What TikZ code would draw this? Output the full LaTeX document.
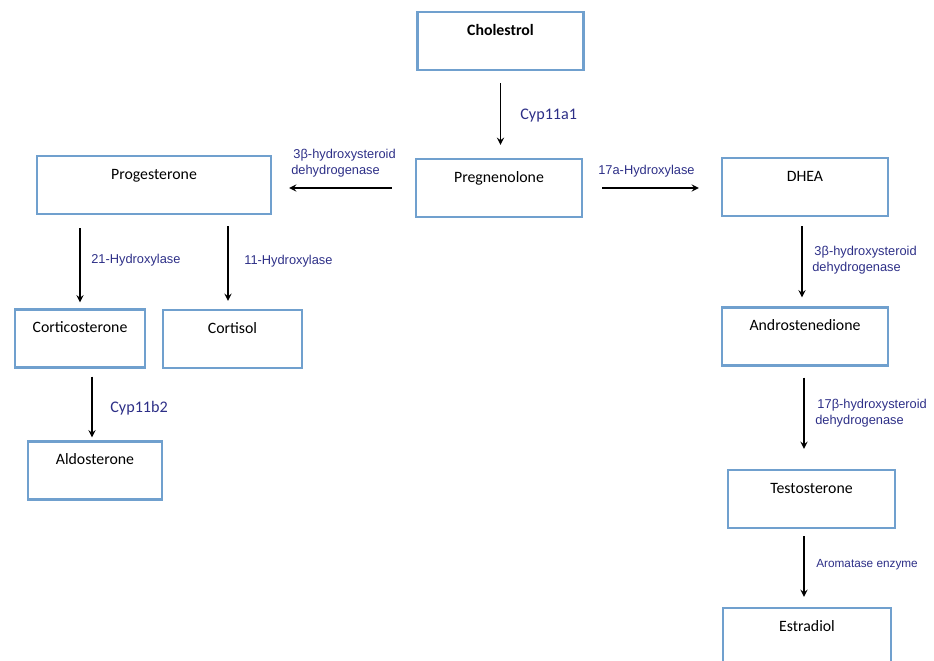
\documentclass[tikz,border=0pt]{standalone}
\usepackage{fontspec}
\usepackage{tikz}
\usepackage{xcolor}
\usetikzlibrary{arrows,positioning,calc}
\newfontfamily\carlito{Carlito}
\newfontfamily\arialfont{Liberation Sans}
\definecolor{boxblue}{RGB}{112,160,206}
\definecolor{enzblue}{RGB}{45,47,135}

\begin{document}
\begin{tikzpicture}[x=0.02cm, y=-0.02cm,
  stage/.style={draw=boxblue, line width=1.4pt, minimum width=#1, minimum height=1.16cm,
    text height=0.47cm, text depth=0.69cm, inner ysep=0pt, inner xsep=0pt,
    font=\carlito\fontsize{9}{10}\selectfont},
  stage/.default=3.32cm,
  enzyme/.style={anchor=west, align=left, inner sep=0pt, text=enzblue,
    font=\arialfont\fontsize{7.3}{9.2}\selectfont},
  cypname/.style={anchor=west, inner sep=0pt, text=enzblue,
    font=\carlito\fontsize{9.2}{10}\selectfont},
  pathway/.style={-stealth, line width=0.8pt}]
\useasboundingbox (0,0) rectangle (934,661);
\node[stage] (chol) at (500.5,41) {\bfseries Cholestrol};
\node[stage] (preg) at (499,188) {Pregnenolone};
\node[stage] (dhea) at (805,187) {DHEA};
\node[stage=4.68cm] (prog) at (154,185) {Progesterone};
\node[stage=2.6cm] (cort) at (80,338.5) {Corticosterone};
\node[stage=2.78cm] (csol) at (232.5,339) {Cortisol};
\node[stage=2.68cm] (aldo) at (95,470.5) {Aldosterone};
\node[stage] (andr) at (805,336.5) {Androstenedione};
\node[stage=3.34cm] (test) at (811.5,499) {Testosterone};
\node[stage=3.36cm] (estr) at (807,637) {Estradiol};
\draw[pathway, shorten <=0.24cm, shorten >=0.26cm] (chol.south) -- (chol.south |- preg.north);
\draw[pathway, shorten <=0.46cm, shorten >=0.34cm] (preg.west) -- (preg.west -| prog.east);
\draw[pathway, shorten <=0.38cm, shorten >=0.44cm] (preg.east) -- (preg.east -| dhea.west);
\draw[pathway, shorten <=0.26cm, shorten >=0.12cm] (prog.south -| cort.north) -- (cort.north);
\draw[pathway, shorten <=0.22cm, shorten >=0.16cm] (prog.south -| 228,0) -- (csol.north -| 228,0);
\draw[pathway, shorten <=0.16cm, shorten >=0.06cm] (cort.south -| 92,0) -- (aldo.north -| 92,0);
\draw[pathway, shorten <=0.18cm, shorten >=0.18cm] (dhea.south -| 802,0) -- (andr.north -| 802,0);
\draw[pathway, shorten <=0.22cm, shorten >=0.4cm] (andr.south -| 804,0) -- (test.north -| 804,0);
\draw[pathway, shorten <=0.14cm, shorten >=0.2cm] (test.south -| 804,0) -- (estr.north -| 804,0);
\node[cypname] (lcyp1) at (520,116) {Cyp11a1};
\node[enzyme] (lhsd1) at (291,163) {\,3β-hydroxysteroid\\dehydrogenase};
\node[enzyme] (l17a) at (598,171) {17a-Hydroxylase};
\node[enzyme] (l21) at (91,260) {21-Hydroxylase};
\node[enzyme] (l11) at (244,261) {11-Hydroxylase};
\node[cypname] (lcyp2) at (110,408) {Cyp11b2};
\node[enzyme] (lhsd2) at (812,260.5) {\,3β-hydroxysteroid\\dehydrogenase};
\node[enzyme] (lhsd3) at (815,413) {\,17β-hydroxysteroid\\dehydrogenase};
\node[enzyme, font=\arialfont\fontsize{6.7}{8}\selectfont] (larom) at (816,565) {Aromatase enzyme};
\end{tikzpicture}
\end{document}
